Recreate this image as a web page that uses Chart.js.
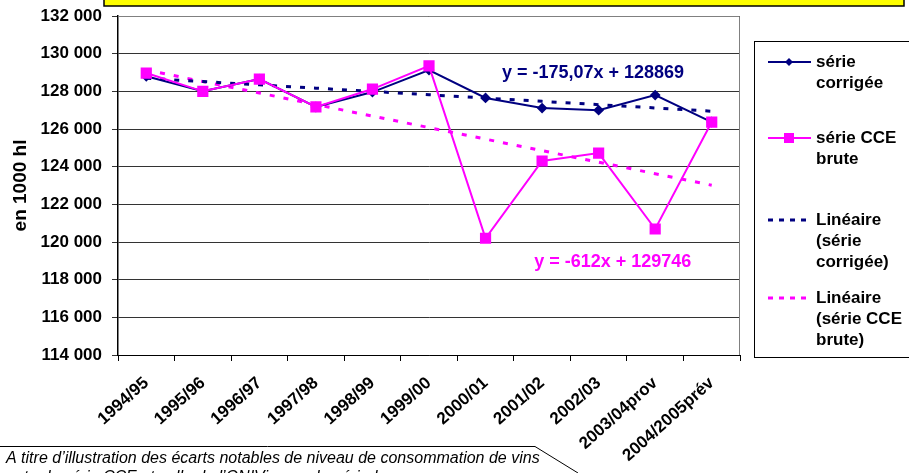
<!DOCTYPE html>
<html>
<head>
<meta charset="utf-8">
<script src="https://cdn.jsdelivr.net/npm/chart.js@4.4.1/dist/chart.umd.min.js"></script>
<style>
  body { margin: 0; background: #fff; }
  #wrap { position: relative; width: 909px; height: 473px; }
</style>
</head>
<body>
<div id="wrap"><canvas id="conso-chart"></canvas></div>
<script>
// campagnes
const campagnes = ['1994/95', '1995/96', '1996/97', '1997/98', '1998/99', '1999/00',
                   '2000/01', '2001/02', '2002/03', '2003/04prov', '2004/2005prév'];
// en 1000 hl
const serieCorrigee = [128800, 128000, 128650, 127170, 127960, 129130, 127650, 127110, 127000, 127800, 126370];
const serieCCE      = [128970, 128000, 128650, 127170, 128120, 129350, 120200, 124300, 124720, 120690, 126370];
// tendances (equations affichees sur le graphique)
const penteCorrigee = -175.07, origineCorrigee = 128869;
const penteCCE = -612, origineCCE = 129746;
const yTicks = [114000, 132000, 2000];

const NAVY = '#000080';
const PINK = '#FF00FF';
const FONT = "'Liberation Sans', Arial, sans-serif";

const tendCorrigee = campagnes.map((c, i) => penteCorrigee * (i + 1) + origineCorrigee);
const tendCCE = campagnes.map((c, i) => penteCCE * (i + 1) + origineCCE);

function fmt(v) {
    return String(v).replace(/\B(?=(\d{3})+(?!\d))/g, ' ');
}

const decor = {
    id: 'decor',
    beforeDraw(chart) {
        const c = chart.ctx;
        c.save();
        // cadre jaune en haut
        c.fillStyle = '#FFFF00';
        c.fillRect(104, -4, 800, 10);
        c.strokeStyle = '#000';
        c.lineWidth = 1.5;
        c.strokeRect(104, -4, 800, 10);
        c.restore();
    },
    afterDraw(chart) {
        const c = chart.ctx;
        const a = chart.chartArea;
        const x = chart.scales.x, y = chart.scales.y;
        c.save();
        // bord haut / droit de la zone de trace
        c.strokeStyle = '#808080';
        c.lineWidth = 1;
        c.beginPath();
        c.moveTo(a.left, a.top + 0.5);
        c.lineTo(a.right - 0.5, a.top + 0.5);
        c.lineTo(a.right - 0.5, a.bottom);
        c.stroke();

        // equations
        c.font = 'bold 18px ' + FONT;
        c.textAlign = 'center';
        c.textBaseline = 'middle';
        c.fillStyle = NAVY;
        c.fillText('y = -175,07x + 128869', x.getPixelForValue(7.9), y.getPixelForValue(128950));
        c.fillStyle = PINK;
        c.fillText('y = -612x + 129746', x.getPixelForValue(8.25), y.getPixelForValue(118930));

        // legende
        c.strokeStyle = '#000';
        c.lineWidth = 1;
        c.strokeRect(754.5, 41.5, 170, 316);
        c.font = 'bold 17px ' + FONT;
        c.textAlign = 'left';
        c.fillStyle = '#000';
        const items = [
            { col: NAVY, dash: [], mark: 'diamond', y: 62, lines: ['série', 'corrigée'] },
            { col: PINK, dash: [], mark: 'square', y: 138, lines: ['série CCE', 'brute'] },
            { col: NAVY, dash: [5, 6], mark: null, y: 220, lines: ['Linéaire', '(série', 'corrigée)'] },
            { col: PINK, dash: [5, 6], mark: null, y: 298, lines: ['Linéaire', '(série CCE', 'brute)'] }
        ];
        items.forEach(it => {
            c.strokeStyle = it.col;
            c.lineWidth = it.dash.length ? 3 : 2;
            c.setLineDash(it.dash);
            c.beginPath();
            c.moveTo(768, it.y);
            c.lineTo(811, it.y);
            c.stroke();
            c.setLineDash([]);
            c.fillStyle = it.col;
            if (it.mark === 'diamond') {
                c.beginPath();
                c.moveTo(789, it.y - 4); c.lineTo(793, it.y); c.lineTo(789, it.y + 4); c.lineTo(785, it.y);
                c.closePath(); c.fill();
            } else if (it.mark === 'square') {
                c.fillRect(784, it.y - 5, 10, 10);
            }
            c.fillStyle = '#000';
            it.lines.forEach((t, k) => c.fillText(t, 816, it.y + k * 21));
        });

        // note en bas a gauche
        c.strokeStyle = '#000';
        c.lineWidth = 1;
        c.beginPath();
        c.moveTo(0, 446.5);
        c.lineTo(535, 446.5);
        c.lineTo(578, 473);
        c.stroke();
        c.font = 'italic 16px ' + FONT;
        c.fillStyle = '#000';
        c.textBaseline = 'alphabetic';
        c.fillText('A titre d\u2019illustration des écarts notables de niveau de consommation de vins', 6, 463);
        c.fillText('entre la série CCE et celle de l\u2019ONIVins sur la période', 6, 482);
        c.restore();
    }
};

const ctx = document.getElementById('conso-chart').getContext('2d');
const chart = new Chart(ctx, {
    type: 'line',
    data: {
        labels: campagnes,
        datasets: [
            {
                label: 'série CCE brute',
                data: serieCCE,
                borderColor: PINK,
                backgroundColor: PINK,
                borderWidth: 2,
                pointStyle: 'rect',
                pointRadius: 6.5,
                tension: 0
            },
            {
                label: 'série corrigée',
                data: serieCorrigee,
                borderColor: NAVY,
                backgroundColor: NAVY,
                borderWidth: 2,
                pointStyle: 'rectRot',
                pointRadius: 4,
                tension: 0
            },
            {
                label: 'Linéaire (série corrigée)',
                data: tendCorrigee,
                borderColor: NAVY,
                borderWidth: 3,
                borderDash: [5, 9],
                pointRadius: 0,
                tension: 0
            },
            {
                label: 'Linéaire (série CCE brute)',
                data: tendCCE,
                borderColor: PINK,
                borderWidth: 3,
                borderDash: [5, 9],
                pointRadius: 0,
                tension: 0
            }
        ]
    },
    options: {
        responsive: true,
        maintainAspectRatio: false,
        animation: false,
        layout: { padding: { left: 0, right: 169, top: 16, bottom: 0 } },
        plugins: {
            legend: { display: false },
            tooltip: { enabled: false }
        },
        scales: {
            x: {
                offset: true,
                grid: { offset: true, drawOnChartArea: false, tickLength: 6, color: '#000' },
                border: { color: '#000', width: 1 },
                ticks: {
                    minRotation: 42, maxRotation: 42, autoSkip: false,
                    color: '#000', padding: 12,
                    font: { family: FONT, size: 17, weight: 'bold' }
                },
                afterFit(scale) { scale.height = 118; }
            },
            y: {
                min: yTicks[0],
                max: yTicks[1],
                ticks: {
                    stepSize: yTicks[2],
                    color: '#000', padding: 10,
                    font: { family: FONT, size: 17, weight: 'bold' },
                    callback: v => fmt(v)
                },
                grid: { color: '#333', tickLength: 6, lineWidth: 1 },
                border: { color: '#000', width: 1.5 },
                title: {
                    display: true,
                    text: 'en 1000 hl',
                    color: '#000',
                    padding: { top: 9, bottom: 0 },
                    font: { family: FONT, size: 19, weight: 'bold' }
                },
                afterFit(scale) {
                    scale.width = 118;
                    scale.paddingTop = 0;
                    scale.paddingBottom = 0;
                }
            }
        }
    },
    plugins: [decor]
});
</script>
</body>
</html>
